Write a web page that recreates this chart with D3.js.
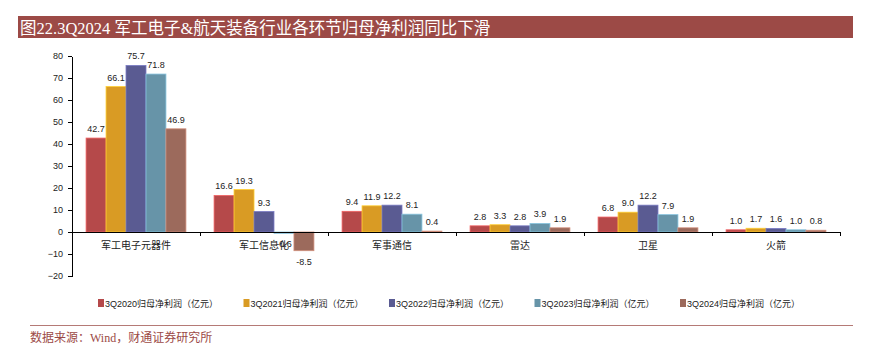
<!DOCTYPE html>
<html lang="zh">
  <head>
    <meta charset="UTF-8" />
    <style>
      body {
        margin: 0;
        background: #fff;
      }
      svg {
        font-family: "Liberation Sans", "Noto Sans CJK SC", sans-serif;
      }
      .axis path,
      .axis line {
        stroke: #000;
        shape-rendering: crispEdges;
      }
      .axis text {
        font-size: 9px;
        fill: #222;
      }
    </style>
    <script src="https://d3js.org/d3.v7.min.js"></script>
    <title>军工电子&航天装备</title>
  </head>
  <body>
    <script>
      var categories = ["军工电子元器件", "军工信息化", "军事通信", "雷达", "卫星", "火箭"];
      var seriesNames = [
        "3Q2020归母净利润（亿元）",
        "3Q2021归母净利润（亿元）",
        "3Q2022归母净利润（亿元）",
        "3Q2023归母净利润（亿元）",
        "3Q2024归母净利润（亿元）"
      ];
      var v2020 = [42.7, 16.6, 9.4, 2.8, 6.8, 1.0];
      var v2021 = [66.1, 19.3, 11.9, 3.3, 9.0, 1.7];
      var v2022 = [75.7, 9.3, 12.2, 2.8, 12.2, 1.6];
      var v2023 = [71.8, -0.6, 8.1, 3.9, 7.9, 1.0];
      var v2024 = [46.9, -8.5, 0.4, 1.9, 1.9, 0.8];
      var yTicks = [-20, -10, 0, 10, 20, 30, 40, 50, 60, 70, 80];
      var colors = ["#b5494a", "#d99b24", "#5a5b92", "#6794a8", "#9c6a5c"];

      var series = [v2020, v2021, v2022, v2023, v2024];
      var W = 869, H = 348;

      var svg = d3.select("body").append("svg").attr("width", W).attr("height", H);

      // title bar
      svg.append("rect").attr("x", 18).attr("y", 16).attr("width", 835).attr("height", 22)
        .attr("fill", "#9c4a46");
      svg.append("text").attr("x", 20).attr("y", 33.5)
        .style("font-family", "'Liberation Serif', 'Noto Sans CJK SC', serif")
        .style("font-size", "16.5px").attr("fill", "#fff")
        .text("图22.3Q2024 军工电子&航天装备行业各环节归母净利润同比下滑");

      var x0 = d3.scaleBand().domain(categories).range([72, 840])
        .paddingInner(0.22).paddingOuter(0.11);
      var x1 = d3.scaleBand().domain(d3.range(series.length)).range([0, x0.bandwidth()]);
      var y = d3.scaleLinear().domain([-20, 80]).range([276, 56]);

      // y axis
      svg.append("g").attr("class", "axis").attr("transform", "translate(72,0)")
        .call(d3.axisLeft(y).tickValues(yTicks).tickSize(4).tickPadding(5).tickSizeOuter(0));

      // bars
      var groups = svg.selectAll("g.cat").data(categories).enter().append("g")
        .attr("class", "cat").attr("transform", function (d) { return "translate(" + x0(d) + ",0)"; });

      series.forEach(function (vals, si) {
        groups.append("rect")
          .attr("x", x1(si))
          .attr("y", function (d, i) { return y(Math.max(0, vals[i])); })
          .attr("width", x1.bandwidth())
          .attr("height", function (d, i) { return Math.abs(y(vals[i]) - y(0)); })
          .attr("fill", colors[si])
          .attr("stroke", d3.color(colors[si]).brighter(0.8))
          .attr("stroke-width", 0.8);
        groups.append("text")
          .attr("x", x1(si) + x1.bandwidth() / 2)
          .attr("y", function (d, i) { return vals[i] >= 0 ? y(vals[i]) - 6 : y(vals[i]) + 14; })
          .attr("text-anchor", "middle")
          .style("font-size", "9px").attr("fill", "#222")
          .text(function (d, i) { return vals[i].toFixed(1); });
      });

      // x axis at zero
      var xAxis = svg.append("g").attr("class", "axis").attr("transform", "translate(0," + y(0) + ")");
      xAxis.append("line").attr("x1", 72).attr("x2", 840).attr("stroke", "#000");
      var step = x0.step();
      xAxis.selectAll("line.tk").data(d3.range(1, categories.length + 1)).enter().append("line")
        .attr("class", "tk")
        .attr("x1", function (d) { return 72 + d * step; })
        .attr("x2", function (d) { return 72 + d * step; })
        .attr("y1", 0).attr("y2", 4);
      xAxis.selectAll("text.cl").data(categories).enter().append("text")
        .attr("class", "cl")
        .attr("x", function (d) { return x0(d) + x0.bandwidth() / 2; })
        .attr("y", 17)
        .attr("text-anchor", "middle")
        .style("font-size", "10px").attr("fill", "#333")
        .text(function (d) { return d; });

      // legend
      var legend = svg.selectAll("g.lg").data(seriesNames).enter().append("g")
        .attr("class", "lg")
        .attr("transform", function (d, i) { return "translate(" + (98 + i * 145.5) + ",299)"; });
      legend.append("rect").attr("width", 6).attr("height", 8)
        .attr("fill", function (d, i) { return colors[i]; });
      legend.append("text").attr("x", 7).attr("y", 7.5)
        .style("font-size", "9px").attr("fill", "#222")
        .text(function (d) { return d; });

      // source
      svg.append("line").attr("x1", 30).attr("x2", 853).attr("y1", 325.5).attr("y2", 325.5)
        .attr("stroke", "#b57a76").attr("stroke-width", 1);
      svg.append("text").attr("x", 30).attr("y", 342)
        .style("font-family", "'Liberation Serif', 'Noto Sans CJK SC', serif")
        .style("font-size", "12px").attr("fill", "#9c4a46")
        .text("数据来源：Wind，财通证券研究所");
    </script>
  </body>
</html>
